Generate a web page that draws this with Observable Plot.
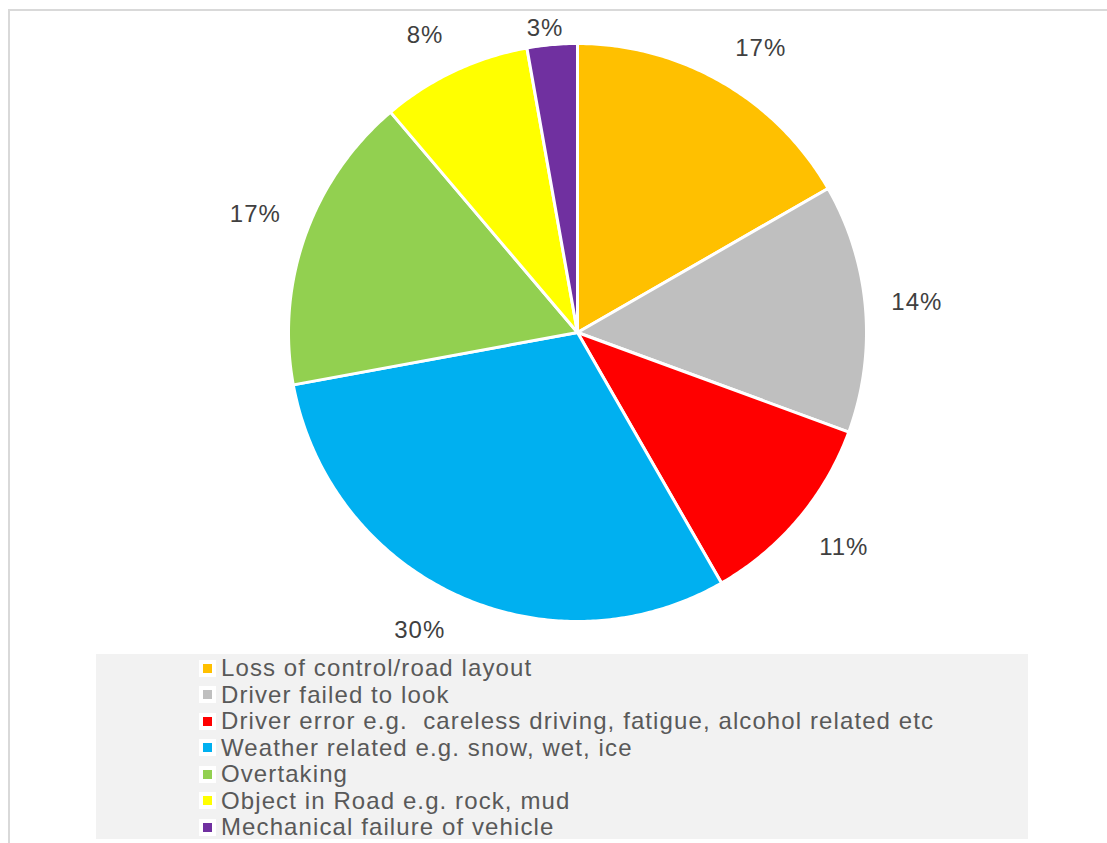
<!DOCTYPE html>
<html>
<head>
<meta charset="utf-8">
<script src="https://cdn.jsdelivr.net/npm/d3@7"></script>
<script src="https://cdn.jsdelivr.net/npm/@observablehq/plot@0.6"></script>
<style>
  html, body { margin: 0; padding: 0; background: #fff; }
  #wrap { position: relative; width: 1107px; height: 843px; overflow: hidden; font-family: "Liberation Sans", Arial, sans-serif; }
  #frame { position: absolute; left: 8px; top: 9px; width: 1200px; height: 1000px; border: 2px solid #d9d9d9; box-sizing: border-box; pointer-events: none; }
  #legend { position: absolute; left: 96px; top: 654px; width: 932px; height: 185px; background: #f2f2f2; }
  .row { position: absolute; left: 103px; height: 26.5px; display: flex; align-items: center; font-size: 24px; letter-spacing: 1.1px; color: #595959; white-space: pre; }
  .sw { width: 17px; height: 17px; background: #fff; display: flex; align-items: center; justify-content: center; margin-right: 5px; flex: none; }
  .sw span { display: block; width: 9px; height: 9px; }
  #chart svg { position: absolute; left: 0; top: 0; }
  #chart svg text { letter-spacing: 1px; }
</style>
</head>
<body>
<div id="wrap"><div id="chart"></div><div id="legend"></div><div id="frame"></div></div>
<script>
const categories = [
  "Loss of control/road layout",
  "Driver failed to look",
  "Driver error e.g.  careless driving, fatigue, alcohol related etc",
  "Weather related e.g. snow, wet, ice",
  "Overtaking",
  "Object in Road e.g. rock, mud",
  "Mechanical failure of vehicle"
];
const values = [16.7, 13.9, 11.1, 30.4, 16.7, 8.4, 2.8];
const colors = ["#FFC000", "#BFBFBF", "#FF0000", "#00B0F0", "#92D050", "#FFFF00", "#7030A0"];

const W = 1107, H = 654;
const cx = 577, cy = 332, R = 289;

const total = d3.sum(values);
const pie = d3.pie().sort(null).value(d => d.value);
const arcs = pie(categories.map((c, i) => ({category: c, value: values[i], color: colors[i]})));

// polygon points in unit-circle coords (angle clockwise from top)
const pts = [];
arcs.forEach(a => {
  const n = Math.max(2, Math.ceil((a.endAngle - a.startAngle) / 0.01));
  pts.push({cat: a.data.category, x: 0, y: 0});
  for (let k = 0; k <= n; k++) {
    const t = a.startAngle + (a.endAngle - a.startAngle) * k / n;
    pts.push({cat: a.data.category, x: Math.sin(t), y: -Math.cos(t)});
  }
});

// "outside end" label placement: anchor point just outside the rim, box pushed away from it
const clamp = v => Math.max(-1, Math.min(1, v));
const minY = 28;
const labels = arcs.map(a => {
  const m = (a.startAngle + a.endAngle) / 2;
  const text = Math.round(a.data.value / total * 100) + "%";
  const hw = (text.length * 14.3 + 8) / 2, hh = 12;
  const px = cx + Math.sin(m) * (R + 26), py = cy - Math.cos(m) * (R + 26);
  let lx = px + hw * clamp(Math.sin(m) * 3);
  let ly = py - hh * clamp(Math.cos(m) * 3);
  if (ly < minY) ly = minY;
  return {x: (lx - cx) / R, y: (ly - cy) / R, text};
});

const chart = Plot.plot({
  width: W, height: H,
  margin: 0,
  x: {domain: [-cx / R, (W - cx) / R], range: [0, W], axis: null},
  y: {domain: [-cy / R, (H - cy) / R], range: [0, H], axis: null},
  color: {domain: categories, range: colors},
  style: {background: "transparent"},
  marks: [
    Plot.line(pts, {x: "x", y: "y", z: "cat", fill: "cat", stroke: "#fff", strokeWidth: 3, strokeLinejoin: "round", curve: "linear-closed"}),
    Plot.text(labels, {x: "x", y: "y", text: "text", fontSize: 24, fill: "#404040", fontFamily: "Liberation Sans, Arial, sans-serif", textAnchor: "middle"})
  ]
});
document.getElementById("chart").appendChild(chart);

const legend = document.getElementById("legend");
categories.forEach((c, i) => {
  const row = document.createElement("div");
  row.className = "row";
  row.style.top = (1 + i * 26.5) + "px";
  row.innerHTML = `<div class="sw"><span style="background:${colors[i]}"></span></div><span></span>`;
  row.lastChild.textContent = c;
  legend.appendChild(row);
});
</script>
</body>
</html>
